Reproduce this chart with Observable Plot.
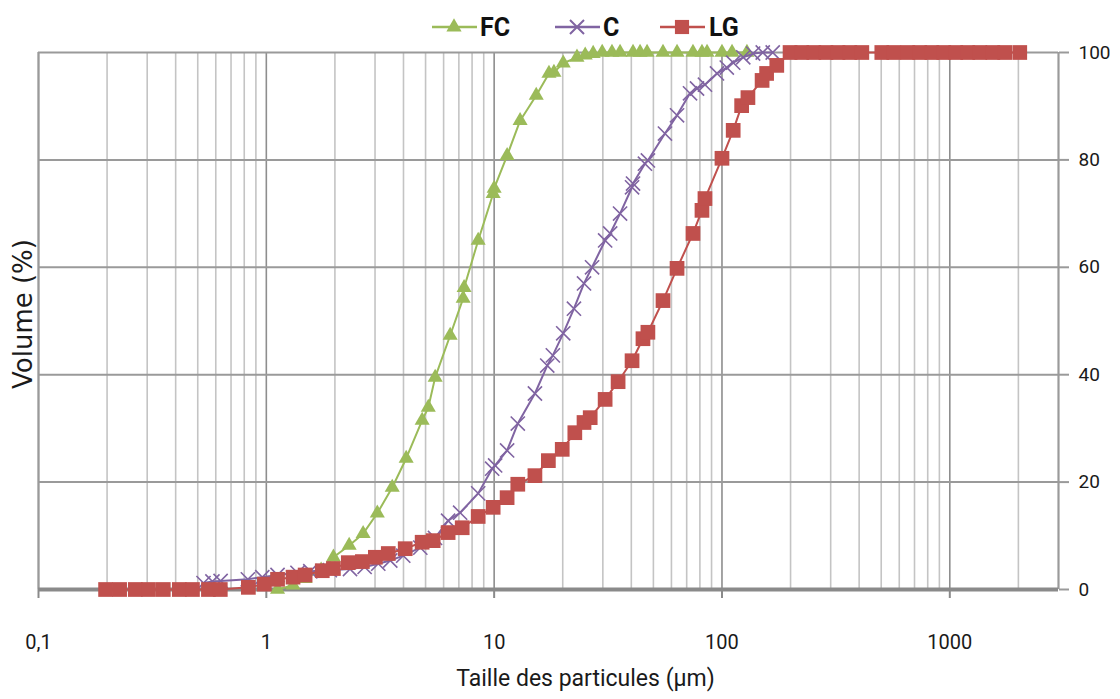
<!DOCTYPE html>
<html>
<head>
<meta charset="utf-8">
<script src="https://cdn.jsdelivr.net/npm/d3@7"></script>
<script src="https://cdn.jsdelivr.net/npm/@observablehq/plot@0.6"></script>
<style>
  html, body { margin: 0; padding: 0; background: #fff; }
  #wrap { width: 1120px; height: 699px; position: relative; overflow: hidden; }
  #legend { display: block; }
</style>
</head>
<body>
<div id="wrap">
  <svg id="legend" width="1120" height="45"></svg>
  <div id="chart"></div>
</div>
<script>
// ---- Data ----
const seriesNames = ["FC", "C", "LG"];

const fcSize = [1.12, 1.31, 1.48, 1.74, 1.97, 2.31, 2.66, 3.07, 3.57, 4.11, 4.83, 5.14, 5.51, 6.41, 7.31, 7.38, 8.51, 9.9, 10.0, 11.4, 13.0, 15.3, 17.4, 18.3, 20.1, 23.1, 25.1, 27.2, 29.8, 32.9, 35.7, 40.7, 43.7, 46.9, 55.1, 63.5, 74.6, 81.7, 86.0, 100, 110.7, 128.7];
const fcVol  = [0, 0.8, 2.0, 3.6, 6.0, 8.2, 10.4, 14.2, 19.0, 24.4, 31.5, 33.9, 39.5, 47.3, 54.2, 56.2, 65.0, 73.7, 74.7, 80.8, 87.3, 92.0, 96.1, 96.3, 98.0, 99.1, 99.5, 99.8, 100, 100, 100, 100, 100, 100, 100, 100, 100, 100, 100, 100, 100, 100];

const cSize = [0.53, 0.58, 0.63, 0.83, 0.96, 1.12, 1.37, 1.56, 1.9, 2.33, 2.7, 3.1, 3.5, 3.99, 4.74, 5.5, 6.28, 7.09, 8.51, 9.8, 10.1, 11.4, 12.7, 15.1, 17.1, 18.1, 20.1, 22.4, 24.8, 26.9, 30.7, 32.3, 35.7, 40.3, 40.7, 45.9, 47.3, 56.2, 63.5, 72.4, 77.7, 84.2, 95.1, 105, 112, 124, 137, 151, 167];
const cVol  = [1.2, 1.5, 1.6, 1.9, 2.3, 2.7, 3.1, 3.4, 3.6, 3.8, 4.2, 4.8, 5.4, 6.3, 7.8, 9.6, 12.8, 14.3, 17.9, 22.5, 23.1, 25.9, 30.9, 36.5, 41.7, 43.6, 47.7, 52.3, 57.0, 60.0, 65.0, 66.3, 70.0, 74.9, 75.6, 79.3, 79.9, 84.9, 88.3, 92.4, 93.3, 94.0, 96.1, 97.2, 98.1, 99.1, 99.8, 100, 100];

const lgSize = [0.197, 0.227, 0.266, 0.304, 0.353, 0.415, 0.474, 0.557, 0.628, 0.834, 0.98, 1.12, 1.31, 1.48, 1.76, 1.97, 2.29, 2.64, 3.01, 3.43, 4.07, 4.83, 5.4, 6.28, 7.24, 8.51, 9.9, 11.4, 12.7, 15.1, 17.3, 19.9, 22.6, 24.8, 26.4, 30.7, 35.0, 40.3, 45.0, 47.3, 55.1, 63.5, 74.6, 81.7, 84.2, 100, 112, 122, 130, 150, 157, 174, 199, 224, 253, 286, 323, 364, 411, 503, 568, 654, 738, 834, 941, 1062, 1199, 1354, 1545, 1742, 2028];
const lgVol  = [0, 0, 0, 0, 0, 0, 0, 0, 0, 0.4, 1.0, 1.9, 2.3, 2.7, 3.5, 3.9, 5.0, 5.2, 6.0, 6.7, 7.6, 8.8, 9.1, 10.6, 11.5, 13.6, 15.3, 17.1, 19.6, 21.2, 24.0, 26.1, 29.2, 31.1, 32.0, 35.4, 38.7, 42.6, 46.7, 47.9, 53.8, 59.8, 66.3, 70.6, 72.8, 80.3, 85.5, 90.1, 91.6, 94.8, 96.1, 97.6, 100, 100, 100, 100, 100, 100, 100, 100, 100, 100, 100, 100, 100, 100, 100, 100, 100, 100, 100];

const xTickValues = [0.1, 1, 10, 100, 1000];
const yTickValues = [0, 20, 40, 60, 80, 100];
const xLabel = "Taille des particules (µm)";
const yLabel = "Volume (%)";

// ---- Styles ----
const colors = { FC: "#9BBB59", C: "#8064A2", LG: "#C0504D" };

const toRows = (name, xs, ys) => xs.map((s, i) => ({ series: name, size: s, vol: ys[i] }));
const fc = toRows("FC", fcSize, fcVol);
const c = toRows("C", cSize, cVol);
const lg = toRows("LG", lgSize, lgVol);

const xDomain = [0.1, 3000];
const allLogTicks = d3.scaleLog().domain(xDomain).ticks();
const minorTicks = allLogTicks.filter(t => !xTickValues.some(v => Math.abs(v - t) / v < 1e-9));

const fmt = d => (d < 1 ? String(d).replace(".", ",") : String(d));

const chart = Plot.plot({
  width: 1120,
  height: 654,
  marginLeft: 38,
  marginRight: 62,
  marginTop: 7,
  marginBottom: 110,
  style: { fontFamily: "Roboto, sans-serif", fontSize: "19px", color: "#1a1a1a", background: "#fff", overflow: "visible" },
  x: { type: "log", domain: xDomain },
  y: { domain: [0, 100] },
  marks: [
    Plot.ruleX(minorTicks, { stroke: "#c4c4c4", strokeWidth: 1.6 }),
    Plot.ruleX(xTickValues, { stroke: "#8e8e8e", strokeWidth: 1.6 }),
    Plot.ruleY(yTickValues.filter(v => v > 0), { stroke: "#9a9a9a", strokeWidth: 2 }),
    Plot.ruleX(xDomain, { stroke: "#9a9a9a", strokeWidth: 2 }),
    Plot.axisX(xTickValues, { tickSize: 9, tickPadding: 36, tickFormat: fmt, stroke: "#8a8a8a", strokeWidth: 2, fill: "#1a1a1a", fontSize: 20, label: null }),
    Plot.axisY(yTickValues, { anchor: "right", tickSize: 10, tickPadding: 10, stroke: "#9a9a9a", strokeWidth: 2, fill: "#1a1a1a", fontSize: 19, label: null }),
    Plot.ruleY([0], { stroke: "#8a8a8a", strokeWidth: 4 }),
    // FC
    Plot.line(fc, { x: "size", y: "vol", stroke: colors.FC, strokeWidth: 2 }),
    Plot.dot(fc, { x: "size", y: "vol", symbol: "triangle", r: 5.6, fill: colors.FC, stroke: "none" }),
    // C
    Plot.line(c, { x: "size", y: "vol", stroke: colors.C, strokeWidth: 2 }),
    Plot.dot(c, { x: "size", y: "vol", symbol: "times", r: 6.5, stroke: colors.C, strokeWidth: 1.6, fill: "none" }),
    // LG
    Plot.line(lg, { x: "size", y: "vol", stroke: colors.LG, strokeWidth: 2 }),
    Plot.dot(lg, { x: "size", y: "vol", symbol: "square", r: 8.3, fill: colors.LG, stroke: "none" }),
    // Axis titles
    Plot.text([xLabel], { frameAnchor: "bottom", dx: 37, dy: 96, fontSize: 23, fill: "#1a1a1a" }),
    Plot.text([yLabel], { frameAnchor: "left", textAnchor: "middle", dx: -15, dy: -7, rotate: -90, fontSize: 26, fill: "#1a1a1a", fontFamily: "DejaVu Sans, sans-serif" })
  ]
});
document.getElementById("chart").appendChild(chart);

// ---- Legend (above the chart) ----
const leg = d3.select("#legend");
const legendItems = [
  { name: seriesNames[0], x0: 432, x1: 477, mx: 454, tx: 480, symbol: d3.symbolTriangle, size: 100, fill: colors.FC, stroke: "none" },
  { name: seriesNames[1], x0: 555, x1: 600, mx: 577, tx: 603, symbol: d3.symbolTimes, size: 130, fill: "none", stroke: colors.C },
  { name: seriesNames[2], x0: 660, x1: 705, mx: 682, tx: 709, symbol: d3.symbolSquare, size: 200, fill: colors.LG, stroke: "none" }
];
const cy = 27;
for (const it of legendItems) {
  const col = colors[it.name];
  leg.append("line").attr("x1", it.x0).attr("x2", it.x1).attr("y1", cy).attr("y2", cy)
     .attr("stroke", col).attr("stroke-width", 2.5);
  leg.append("path").attr("d", d3.symbol(it.symbol, it.size)())
     .attr("transform", `translate(${it.mx},${cy})`)
     .attr("fill", it.fill).attr("stroke", it.stroke).attr("stroke-width", 2);
  leg.append("text").attr("x", it.tx).attr("y", cy + 9).text(it.name)
     .attr("font-family", "Roboto, sans-serif").attr("font-weight", "bold")
     .attr("font-size", 25).attr("fill", "#111");
}
</script>
</body>
</html>
